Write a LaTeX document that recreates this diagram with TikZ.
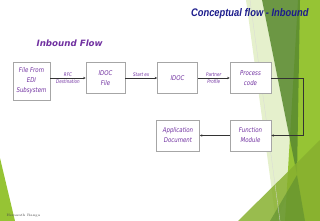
\documentclass[tikz,border=0pt]{standalone}
\usepackage{fontspec}
\usepackage{xcolor}
\definecolor{flowpurple}{RGB}{112,48,160}
\definecolor{titlenavy}{RGB}{28,28,140}
\definecolor{facetdark}{RGB}{92,140,48}
\definecolor{facetlight}{RGB}{150,196,52}
\newfontfamily\boxfont[FakeStretch=0.82]{DejaVu Sans}
\newfontfamily\headfont{DejaVu Sans}
\newfontfamily\titlefont[FakeStretch=0.85]{Liberation Sans}
\usetikzlibrary{arrows.meta, positioning, calc}

\begin{document}
\begin{tikzpicture}[
    x=1pt, y=-1pt,
    >={Stealth[length=2.6pt,width=2.4pt]},
    flowbox/.style={draw=gray!70, line width=0.5pt, fill=white, minimum width=40pt, minimum height=31pt, inner sep=1pt, align=center, text=flowpurple, font=\boxfont\itshape\fontsize{6.6}{10}\selectfont},
    flowlabel/.style={text=flowpurple, inner sep=1pt, font=\boxfont\itshape\fontsize{5}{5.5}\selectfont},
    flowline/.style={draw=black!80, line width=0.5pt}
  ]
  \useasboundingbox (0,0) rectangle (320,221);

  % facet background
  \fill[facetlight!25] (246,0) -- (262,0) -- (297,175) -- (276,221) -- cycle;
  \fill[facetlight] (298,0) -- (320,0) -- (320,221) -- (285,221) -- cycle;
  \fill[facetdark, opacity=0.9] (262,0) -- (300,0) -- (297,175) -- cycle;
  \fill[facetlight!90!black, opacity=0.85] (238,221) -- (320,140) -- (320,221) -- cycle;
  \fill[facetdark, opacity=0.6] (297,175) -- (305,221) -- (270,221) -- cycle;
  \draw[gray!30, line width=0.3pt] (250,0) -- (280,221);
  \fill[facetlight] (0,158) -- (15,221) -- (0,221) -- cycle;

  \node[anchor=base east, text=titlenavy, font=\titlefont\bfseries\itshape\fontsize{11}{13}\selectfont] (title) at (312,17) {Conceptual flow - Inbound};
  \node[anchor=base west, text=flowpurple, font=\headfont\bfseries\itshape\fontsize{8.7}{10}\selectfont] (heading) at (33,47) {Inbound Flow};

  \node[flowbox, minimum width=37pt, minimum height=38pt] (fromedi) at (31.5,81) {File From\\EDI\\Subsystem};
  \node[flowbox, minimum width=39pt] (idocfile) at (105.5,78) {IDOC\\File};
  \node[flowbox, right=32pt of idocfile] (idoc) {IDOC};
  \node[flowbox, minimum width=41pt, right=32pt of idoc] (proccode) {Process\\code};
  \node[flowbox, minimum width=41pt, below=26pt of proccode] (funcmod) {Function\\Module};
  \node[flowbox, minimum width=43pt, left=30pt of funcmod] (appdoc) {Application\\Document};

  \draw[flowline, ->] (fromedi.east |- idocfile) -- node[flowlabel, above] {RFC} node[flowlabel, below] {Destination} (idocfile);
  \draw[flowline, ->] (idocfile) -- node[flowlabel, above] {Start ex} (idoc);
  \draw[flowline, ->] (idoc) -- node[flowlabel, above] {Partner} node[flowlabel, below] {Profile} (proccode);
  \draw[flowline, ->] (proccode.east) -- ++(32pt,0) |- (funcmod.east);
  \draw[flowline, ->] (funcmod) -- (appdoc);

  \node[anchor=base west, text=black!70, font=\fontsize{3.5}{4}\selectfont] (footer) at (3,216) {Hemanth Ranga};
\end{tikzpicture}
\end{document}
